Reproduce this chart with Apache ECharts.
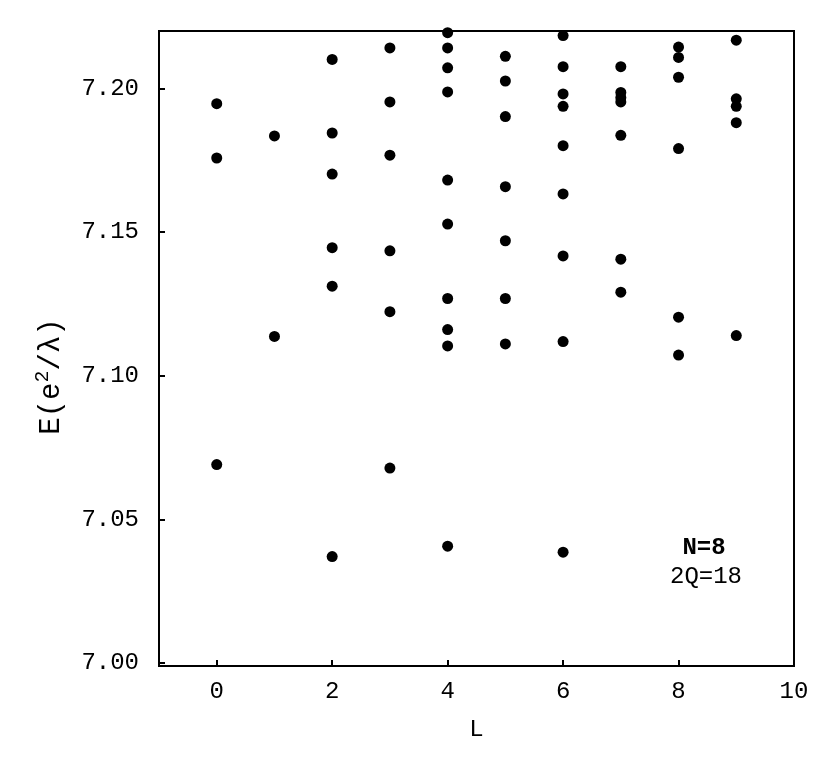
<!DOCTYPE html>
<html>
<head>
<meta charset="utf-8">
<script src="https://cdn.jsdelivr.net/npm/echarts@6/dist/echarts.min.js"></script>
<style>
  html, body { margin: 0; padding: 0; background: #fff; }
  #main { width: 830px; height: 765px; }
</style>
</head>
<body>
<div id="main"></div>
<script>
var myChart = echarts.init(document.getElementById('main'));

// energies E(e^2/λ) for each angular momentum L
const L0 = [7.1947, 7.1758, 7.0691];
const L1 = [7.1835, 7.1137];
const L2 = [7.2101, 7.1845, 7.1702, 7.1446, 7.1312, 7.0371];
const L3 = [7.2141, 7.1953, 7.1768, 7.1435, 7.1223, 7.0679];
const L4 = [7.2194, 7.2141, 7.2072, 7.1988, 7.1681, 7.1528, 7.1269, 7.1161, 7.1104, 7.0407];
const L5 = [7.2112, 7.2026, 7.1902, 7.1658, 7.1470, 7.1269, 7.1111];
const L6 = [7.2184, 7.2076, 7.1981, 7.1938, 7.1801, 7.1633, 7.1417, 7.1119, 7.0386];
const L7 = [7.2076, 7.1986, 7.1968, 7.1953, 7.1837, 7.1406, 7.1291];
const L8 = [7.2144, 7.2108, 7.2039, 7.1791, 7.1204, 7.1072];
const L9 = [7.2168, 7.1964, 7.1938, 7.1881, 7.1140];

const xTicks = [0, 2, 4, 6, 8, 10];
const yTicks = [7.00, 7.05, 7.10, 7.15, 7.20];

let levels = [L0, L1, L2, L3, L4, L5, L6, L7, L8, L9];
let points = [];
levels.forEach((arr, l) => {
    arr.forEach(e => points.push([l, e]));
});

const font = 'Liberation Mono';

var option = {
    animation: false,
    grid: {
        left: 159, right: 36, top: 31, bottom: 99,
        show: true,
        borderColor: '#000',
        borderWidth: 2
    },
    xAxis: {
        type: 'value',
        min: -1,
        max: 10,
        name: 'L',
        nameLocation: 'middle',
        nameGap: 52,
        nameTextStyle: { fontFamily: font, fontSize: 24, color: '#000' },
        axisLine: { show: true, onZero: false, lineStyle: { color: '#000', width: 2 } },
        axisTick: { show: true, inside: true, length: 6, customValues: xTicks, lineStyle: { color: '#000', width: 2 } },
        axisLabel: { customValues: xTicks, margin: 14, fontFamily: font, fontSize: 24, color: '#000' },
        splitLine: { show: false }
    },
    yAxis: {
        type: 'value',
        min: 6.999,
        max: 7.22,
        name: 'E(e{sup|2}/λ)',
        nameLocation: 'middle',
        nameRotate: 90,
        nameGap: 90,
        nameTextStyle: {
            fontFamily: font, fontSize: 29, color: '#000',
            padding: [0, 56, 0, 0],
            rich: { sup: { fontFamily: font, fontSize: 20, color: '#000', verticalAlign: 'bottom', padding: [0, 0, 16, 0] } }
        },
        axisLine: { show: true, onZero: false, lineStyle: { color: '#000', width: 2 } },
        axisTick: { show: true, inside: true, length: 6, customValues: yTicks, lineStyle: { color: '#000', width: 2 } },
        axisLabel: {
            customValues: yTicks, margin: 20, fontFamily: font, fontSize: 24, color: '#000',
            formatter: v => v.toFixed(2)
        },
        splitLine: { show: false }
    },
    graphic: [
        { type: 'text', x: 704, y: 548, style: { text: 'N=8', fontFamily: font, fontSize: 24, fontWeight: 'bold', fill: '#000', align: 'center', verticalAlign: 'middle' } },
        { type: 'text', x: 706, y: 577, style: { text: '2Q=18', fontFamily: font, fontSize: 24, fill: '#000', align: 'center', verticalAlign: 'middle' } }
    ],
    series: [
        {
            type: 'scatter',
            data: points,
            symbol: 'circle',
            symbolSize: 11,
            itemStyle: { color: '#000', opacity: 1 }
        }
    ]
};

myChart.setOption(option);
</script>
</body>
</html>
